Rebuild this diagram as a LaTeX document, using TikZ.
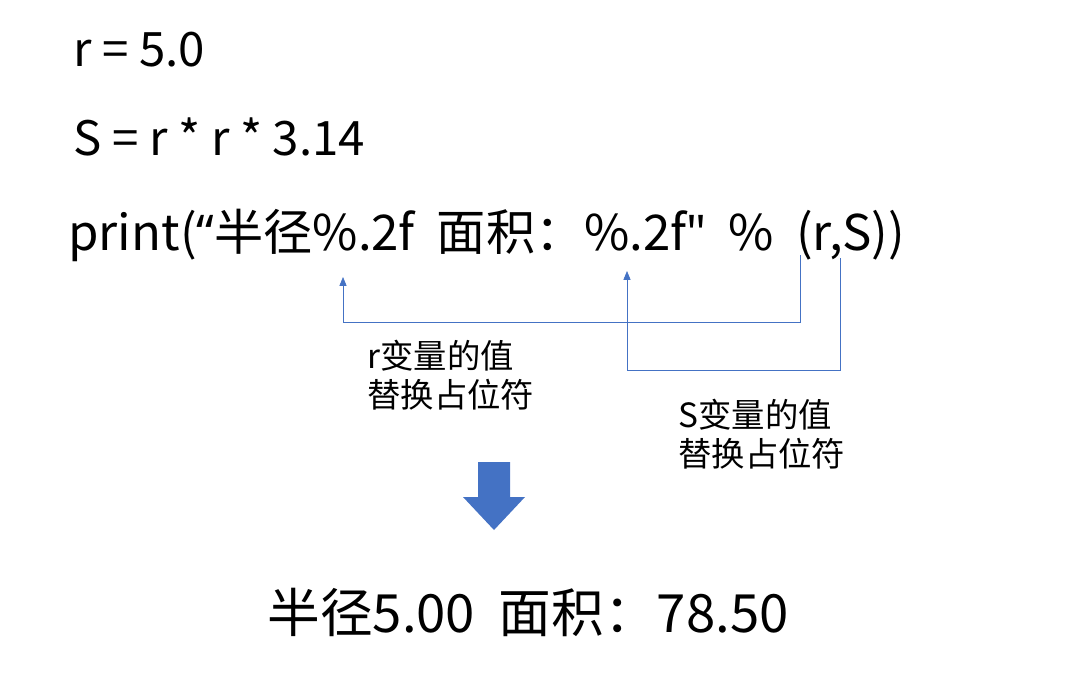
\documentclass[tikz,border=0pt]{standalone}
\usepackage{fontspec}
\setmainfont{Noto Sans CJK SC}
\newfontfamily\latinfont{Noto Sans}
\usetikzlibrary{arrows.meta}
\definecolor{linkblue}{HTML}{4472C4}
\begin{document}
\begin{tikzpicture}[x=0.02cm,y=-0.02cm,
  code/.style={anchor=west,inner sep=0pt,font=\fontsize{27}{30}\selectfont},
  note/.style={anchor=west,inner sep=0pt,font=\fontsize{19}{22}\selectfont},
  link/.style={linkblue,thin,-{Triangle[length=5pt,width=4pt]}}]
\useasboundingbox (0,0) rectangle (1078,683);
\node [code] (radius) at (73,50) {r = 5.0};
\node [code] (area) at (73,137) {S = r * r * 3.14};
\node [code,font=\fontsize{28}{32}\selectfont] (print) at (68,235)
  {print({\latinfont“}半径\%.2f\ \ 面积：\%.2f{\latinfont"}\ \ \%\ \ (r,S))};
\coordinate (rtip) at (343,277);
\coordinate (rfoot) at (800,255);
\coordinate (stip) at (627,271);
\coordinate (sfoot) at (840,258);
\draw [link] (rfoot) |- (343,322) -- (rtip);
\draw [link] (sfoot) |- (627,370) -- (stip);
\node [note,align=left] (rnote) at (367,375) {r变量的值\\替换占位符};
\node [note,align=left] (snote) at (678,434) {S变量的值\\替换占位符};
% down arrow
\fill [linkblue] (478,462) -- (510,462) -- (510,497) -- (525,497) -- (494,530)
  -- (463,497) -- (478,497) -- cycle;
\node [inner sep=0pt,font=\fontsize{30}{32}\selectfont] (result) at (528,612) {半径5.00\ \ 面积：78.50};
\end{tikzpicture}
\end{document}
